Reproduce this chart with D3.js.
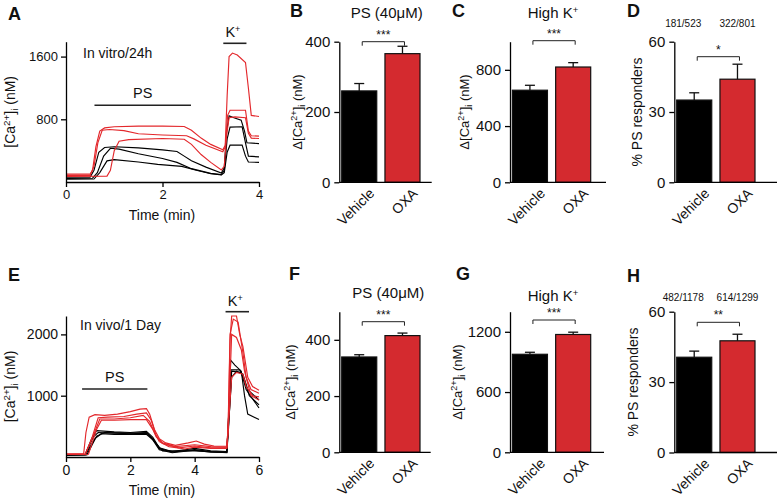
<!DOCTYPE html>
<html><head><meta charset="utf-8">
<script src="https://cdn.jsdelivr.net/npm/d3@7"></script>
<style>
body{margin:0;background:#fff}
text{font-family:Arial,"Liberation Sans",sans-serif;fill:#111}
</style>
</head><body>
<svg id="c" width="777" height="502"></svg>
<script>
// ---------------- DATA ----------------
const groups = ["Vehicle", "OXA"];

// Bar panels: mean and SEM
const psInVitro = [260, 366];      const psInVitroErr = [21, 21];      // B
const kInVitro = [655, 820];       const kInVitroErr = [35, 31];       // C
const respInVitro = [35.1, 44.0];  const respInVitroErr = [3.1, 6.4];  // D
const psInVivo = [339, 415];       const psInVivoErr = [8, 9];         // F
const kInVivo = [976, 1173];       const kInVivoErr = [20, 23];        // G
const respInVivo = [40.6, 47.6];   const respInVivoErr = [2.6, 2.8];   // H

const countsInVitro = ["181/523", "322/801"];
const countsInVivo = ["482/1178", "614/1299"];

const ticksB = [0, 200, 400], ticksC = [0, 400, 800], ticksD = [0, 30, 60];
const ticksF = [0, 200, 400], ticksG = [0, 600, 1200], ticksH = [0, 30, 60];
const ticksAy = [800, 1600], ticksAx = [0, 2, 4];
const ticksEy = [1000, 2000], ticksEx = [0, 2, 4, 6];

// Traces, panel A (in vitro / 24h): [time (min), [Ca2+]i (nM)]
const redA1 = [[0,100],[0.5,100],[0.55,150],[0.62,450],[0.7,650],[0.8,690],[1.0,705],[1.5,712],[2.0,712],[2.45,708],[2.6,660],[2.8,560],[3.0,480],[3.25,410],[3.3,470],[3.34,1100],[3.38,1600],[3.45,1645],[3.55,1620],[3.72,1525],[3.78,1200],[3.84,850],[4.0,835]];
const redA2 = [[0,85],[0.5,85],[0.58,200],[0.66,500],[0.75,660],[0.9,670],[1.2,655],[1.5,615],[2.0,600],[2.5,590],[2.65,550],[2.9,470],[3.25,385],[3.3,450],[3.35,850],[3.4,915],[3.72,915],[3.78,650],[3.84,590],[4.0,585]];
const redA3 = [[0,70],[0.85,75],[0.92,150],[1.0,400],[1.1,520],[1.3,540],[2.0,555],[2.45,545],[2.6,480],[2.8,350],[3.0,250],[3.22,155],[3.28,200],[3.33,600],[3.38,820],[3.5,830],[3.72,820],[3.78,620],[3.84,560],[4.0,555]];
const blackA1 = [[0,60],[0.5,62],[0.58,150],[0.68,380],[0.8,440],[1.0,450],[1.5,435],[2.0,410],[2.3,390],[2.45,330],[2.6,270],[2.9,190],[3.22,115],[3.28,180],[3.33,650],[3.38,845],[3.48,820],[3.63,790],[3.7,650],[3.75,500],[4.0,490]];
const blackA2 = [[0,45],[0.55,48],[0.65,120],[0.78,330],[0.92,430],[1.1,420],[1.5,360],[2.0,300],[2.3,250],[2.6,170],[3.0,110],[3.22,95],[3.28,150],[3.34,550],[3.4,700],[3.65,705],[3.72,500],[3.78,330],[4.0,320]];
const blackA3 = [[0,35],[0.58,38],[0.7,120],[0.85,270],[1.0,285],[1.5,255],[1.9,225],[2.4,200],[2.7,150],[3.0,105],[3.22,90],[3.28,120],[3.34,380],[3.4,470],[3.65,470],[3.72,330],[3.78,255],[4.0,250]];

// Traces, panel E (in vivo / 1 day)
const redE1 = [[0,50],[0.55,55],[0.62,400],[0.72,650],[0.9,690],[1.2,680],[1.6,700],[2.0,740],[2.3,780],[2.5,790],[2.6,700],[2.75,450],[2.9,300],[3.1,230],[3.4,190],[3.8,230],[4.05,260],[4.3,210],[4.6,180],[5.0,175],[5.04,400],[5.1,1900],[5.15,2300],[5.3,2300],[5.4,2000],[5.5,1800],[5.65,1300],[5.8,1150],[6,1090]];
const redE2 = [[0,45],[0.6,50],[0.8,300],[1.0,640],[1.3,650],[1.8,660],[2.2,700],[2.5,720],[2.65,600],[2.8,350],[3.0,230],[3.4,170],[4.0,200],[4.5,170],[5.0,160],[5.04,500],[5.1,2000],[5.2,2250],[5.35,2200],[5.5,1700],[5.6,1300],[5.75,1100],[6,1040]];
const redE3 = [[0,40],[0.6,45],[0.85,350],[1.05,620],[1.5,620],[2.0,640],[2.4,680],[2.6,580],[2.8,330],[3.0,220],[3.5,150],[4.0,180],[4.5,150],[5.0,150],[5.06,600],[5.15,1300],[5.3,1380],[5.5,1350],[5.6,1150],[5.8,1000],[6,980]];
const redE4 = [[0,40],[0.7,45],[0.95,450],[1.1,600],[1.5,600],[2.0,610],[2.5,610],[2.7,450],[2.9,250],[3.2,170],[3.7,130],[4.0,160],[4.5,140],[5.0,140],[5.06,700],[5.15,2000],[5.3,1950],[5.45,1750],[5.55,1400],[5.75,1000],[6,930]];
const blackE1 = [[0,40],[0.6,45],[0.8,300],[0.95,430],[1.5,410],[2.0,400],[2.5,420],[2.7,320],[2.9,150],[3.3,90],[4.0,140],[4.5,100],[5.0,90],[5.05,600],[5.12,1580],[5.25,1500],[5.45,1400],[5.55,1000],[5.65,700],[6,610]];
const blackE2 = [[0,35],[0.6,40],[0.85,330],[1.0,400],[1.5,390],[2.0,380],[2.5,390],[2.7,300],[2.9,140],[3.3,80],[4.0,120],[4.5,90],[5.0,80],[5.05,600],[5.12,1420],[5.4,1420],[5.55,1250],[5.7,1000],[6,850]];
const blackE3 = [[0,30],[0.6,35],[0.9,300],[1.1,380],[1.5,370],[2.0,370],[2.5,370],[2.7,280],[2.9,120],[3.3,70],[4.0,110],[4.5,80],[5.0,75],[5.05,500],[5.15,1300],[5.3,1400],[5.5,1350],[5.65,1100],[6,930]];
const blackE4 = [[0,30],[0.65,35],[0.95,340],[1.2,400],[2.0,390],[2.5,400],[2.75,250],[3.0,100],[4.0,100],[5.0,70],[5.05,450],[5.15,1400],[5.45,1380],[5.6,1100],[6,800]];

// stimulus bars (min)
const psBarA = [0.59, 2.59], kBarA = [3.26, 3.74];
const psBarE = [0.5, 2.53], kBarE = [4.96, 5.69];

// ---------------- DRAW ----------------
const RED = "#d42a2f", TRACE_RED = "#e3282c", BLACK = "#000";
const svg = d3.select("#c");
const plain = d => String(d);

function letter(t, x, y) {
  svg.append("text").attr("x", x).attr("y", y).attr("font-size", 18).attr("font-weight", "bold").text(t);
}
function caLabel(g, prefix, x, y, size) {
  const t = g.append("text").attr("transform", `translate(${x},${y}) rotate(-90)`)
    .attr("text-anchor", "middle").attr("font-size", size);
  t.append("tspan").text(prefix + "[Ca");
  t.append("tspan").attr("dy", -size * 0.38).attr("font-size", size * 0.7).text("2+");
  t.append("tspan").attr("dy", size * 0.38).text("]");
  t.append("tspan").attr("dy", size * 0.22).attr("font-size", size * 0.7).text("i");
  t.append("tspan").attr("dy", -size * 0.22).text(" (nM)");
}
function styleAxis(g, fs) {
  g.select(".domain").attr("stroke", "#000").attr("stroke-width", 1.3);
  g.selectAll(".tick line").attr("stroke", "#000").attr("stroke-width", 1.3);
  g.selectAll(".tick text").attr("font-size", fs).attr("fill", "#111").style("font-family", "Arial, 'Liberation Sans', sans-serif");
}

function tracePanel(cfg) {
  const x = d3.scaleLinear().domain(cfg.xDomain).range([66, 259]);
  const y = d3.scaleLinear().domain(cfg.yDomain).range([cfg.yBot, cfg.yTop]);
  const line = d3.line().x(d => x(d[0])).y(d => y(d[1]));
  cfg.black.forEach(s => svg.append("path").attr("d", line(s)).attr("fill", "none").attr("stroke", BLACK).attr("stroke-width", 1.15));
  cfg.red.forEach(s => svg.append("path").attr("d", line(s)).attr("fill", "none").attr("stroke", TRACE_RED).attr("stroke-width", 1.15));
  const gy = svg.append("g").attr("transform", `translate(66,0)`)
    .call(d3.axisLeft(y).tickValues(cfg.yTicks).tickFormat(plain).tickSize(5).tickSizeOuter(0).tickPadding(3));
  styleAxis(gy, cfg.fs);
  const gx = svg.append("g").attr("transform", `translate(0,${cfg.yBot})`)
    .call(d3.axisBottom(x).tickValues(cfg.xTicks).tickFormat(plain).tickSize(5).tickSizeOuter(0).tickPadding(3));
  styleAxis(gx, cfg.fs);
  // stimulus bars
  svg.append("line").attr("x1", x(cfg.ps[0])).attr("x2", x(cfg.ps[1])).attr("y1", cfg.psY).attr("y2", cfg.psY).attr("stroke", "#222").attr("stroke-width", 1.6);
  svg.append("text").attr("x", (x(cfg.ps[0]) + x(cfg.ps[1])) / 2).attr("y", cfg.psY - 7).attr("text-anchor", "middle").attr("font-size", 14.5).text("PS");
  svg.append("line").attr("x1", x(cfg.k[0])).attr("x2", x(cfg.k[1])).attr("y1", cfg.kY).attr("y2", cfg.kY).attr("stroke", "#222").attr("stroke-width", 1.6);
  const kt = svg.append("text").attr("x", (x(cfg.k[0]) + x(cfg.k[1])) / 2 - 2).attr("y", cfg.kY - 6).attr("text-anchor", "middle").attr("font-size", 14.5);
  kt.append("tspan").text("K");
  kt.append("tspan").attr("dy", -5).attr("font-size", 9).text("+");
  svg.append("text").attr("x", cfg.noteX).attr("y", cfg.noteY).attr("font-size", 14).text(cfg.note);
  svg.append("text").attr("x", 162).attr("y", cfg.yBot + 38).attr("text-anchor", "middle").attr("font-size", 14).text("Time (min)");
  caLabel(svg, "", cfg.labelX, (cfg.yBot + cfg.yTop) / 2, 14);
}

function barPanel(cfg) {
  const y = d3.scaleLinear().domain([0, cfg.max]).range([cfg.yBot, cfg.yTop]);
  const x = d3.scaleBand().domain(groups).range([cfg.x0 + 2.4, cfg.x0 + 80.7]).paddingInner(0.19);
  const g = svg.append("g");
  g.selectAll("rect.bar").data(groups).join("rect")
    .attr("x", d => x(d)).attr("width", x.bandwidth())
    .attr("y", (d, i) => y(cfg.vals[i])).attr("height", (d, i) => cfg.yBot - y(cfg.vals[i]))
    .attr("fill", (d, i) => i === 0 ? BLACK : RED).attr("stroke", "#111").attr("stroke-width", 1.2);
  // error bars (up only)
  groups.forEach((d, i) => {
    const cx = x(d) + x.bandwidth() / 2;
    const top = y(cfg.vals[i] + cfg.errs[i]);
    g.append("line").attr("x1", cx).attr("x2", cx).attr("y1", y(cfg.vals[i])).attr("y2", top).attr("stroke", "#111").attr("stroke-width", 1.3);
    g.append("line").attr("x1", cx - 5).attr("x2", cx + 5).attr("y1", top).attr("y2", top).attr("stroke", "#111").attr("stroke-width", 1.3);
    g.append("text").attr("transform", `translate(${cx + 16},${cfg.yBot + 12}) rotate(-45)`)
      .attr("text-anchor", "end").attr("font-size", 14).text(d);
  });
  const gy = svg.append("g").attr("transform", `translate(${cfg.x0},0)`)
    .call(d3.axisLeft(y).tickValues(cfg.ticks).tickFormat(plain).tickSize(5).tickSizeOuter(0).tickPadding(4));
  styleAxis(gy, 15);
  svg.append("line").attr("x1", cfg.x0).attr("x2", cfg.xEnd).attr("y1", cfg.yBot).attr("y2", cfg.yBot).attr("stroke", "#000").attr("stroke-width", 1.3);
  // significance bracket
  const bx1 = x(groups[0]) + x.bandwidth() / 2 + 3, bx2 = x(groups[1]) + x.bandwidth() / 2 + 2;
  svg.append("path").attr("d", `M${bx1},${cfg.brY + 4}V${cfg.brY}H${bx2}V${cfg.brY + 4}`).attr("fill", "none").attr("stroke", "#222").attr("stroke-width", 1);
  svg.append("text").attr("x", (bx1 + bx2) / 2).attr("y", cfg.brY - 3).attr("text-anchor", "middle").attr("font-size", 12).text(cfg.sig);
  if (cfg.title) {
    const t = svg.append("text").attr("x", cfg.titleX).attr("y", cfg.titleY).attr("text-anchor", "middle").attr("font-size", 15);
    if (cfg.titleK) { t.append("tspan").text("High K"); t.append("tspan").attr("dy", -5).attr("font-size", 9.5).text("+"); }
    else t.text(cfg.title);
  }
  if (cfg.counts) {
    groups.forEach((d, i) => {
      svg.append("text").attr("x", x(d) + x.bandwidth() / 2 + (i === 0 ? -11 : 0)).attr("y", cfg.countY).attr("text-anchor", "middle").attr("font-size", 10).text(cfg.counts[i]);
    });
    svg.append("text").attr("transform", `translate(${cfg.labelX},${(cfg.yBot + cfg.yTop) / 2}) rotate(-90)`)
      .attr("text-anchor", "middle").attr("font-size", 14).text("% PS responders");
  } else {
    caLabel(svg, "\u0394", cfg.labelX, (cfg.yBot + cfg.yTop) / 2, 13);
  }
}

// Panel A
tracePanel({ xDomain: [0, 4], yDomain: [0, 1790], yTop: 41.7, yBot: 182, yTicks: ticksAy, xTicks: ticksAx, fs: 13,
  red: [redA1, redA2, redA3], black: [blackA1, blackA2, blackA3],
  ps: psBarA, psY: 105.3, k: kBarA, kY: 43.3, note: "In vitro/24h", noteX: 83, noteY: 58, labelX: 15 });
// Panel E
tracePanel({ xDomain: [0, 6], yDomain: [0, 2300], yTop: 316, yBot: 457, yTicks: ticksEy, xTicks: ticksEx, fs: 14,
  red: [redE1, redE2, redE3, redE4], black: [blackE1, blackE2, blackE3, blackE4],
  ps: psBarE, psY: 389, k: kBarE, kY: 311.7, note: "In vivo/1 Day", noteX: 80, noteY: 330, labelX: 15 });

barPanel({ x0: 339.3, xEnd: 431.7, yTop: 41.7, yBot: 182.3, max: 400, ticks: ticksB, vals: psInVitro, errs: psInVitroErr,
  brY: 41.7, sig: "***", title: "PS (40\u03bcM)", titleX: 386.7, titleY: 18, labelX: 302 });
barPanel({ x0: 510, xEnd: 606, yTop: 41.7, yBot: 182.3, max: 1000, ticks: ticksC, vals: kInVitro, errs: kInVitroErr,
  brY: 40.7, sig: "***", title: "High K+", titleK: true, titleX: 553, titleY: 18, labelX: 469 });
barPanel({ x0: 674.3, xEnd: 777, yTop: 41.7, yBot: 182.3, max: 60, ticks: ticksD, vals: respInVitro, errs: respInVitroErr,
  brY: 56.7, sig: "*", counts: countsInVitro, countY: 27, labelX: 642 });
barPanel({ x0: 339.3, xEnd: 430.7, yTop: 311.7, yBot: 452.3, max: 500, ticks: ticksF, vals: psInVivo, errs: psInVivoErr,
  brY: 321.7, sig: "***", title: "PS (40\u03bcM)", titleX: 388.3, titleY: 298, labelX: 295 });
barPanel({ x0: 510, xEnd: 604, yTop: 311.7, yBot: 452.3, max: 1400, ticks: ticksG, vals: kInVivo, errs: kInVivoErr,
  brY: 320, sig: "***", title: "High K+", titleK: true, titleX: 553, titleY: 301, labelX: 462 });
barPanel({ x0: 674.3, xEnd: 777, yTop: 311.7, yBot: 452.5, max: 60, ticks: ticksH, vals: respInVivo, errs: respInVivoErr,
  brY: 322.3, sig: "**", counts: countsInVivo, countY: 301, labelX: 638 });

letter("A", 8, 20); letter("B", 290, 17); letter("C", 452, 17); letter("D", 627, 17);
letter("E", 8, 281); letter("F", 289, 280); letter("G", 456, 280); letter("H", 627, 282);
</script>
</body></html>
